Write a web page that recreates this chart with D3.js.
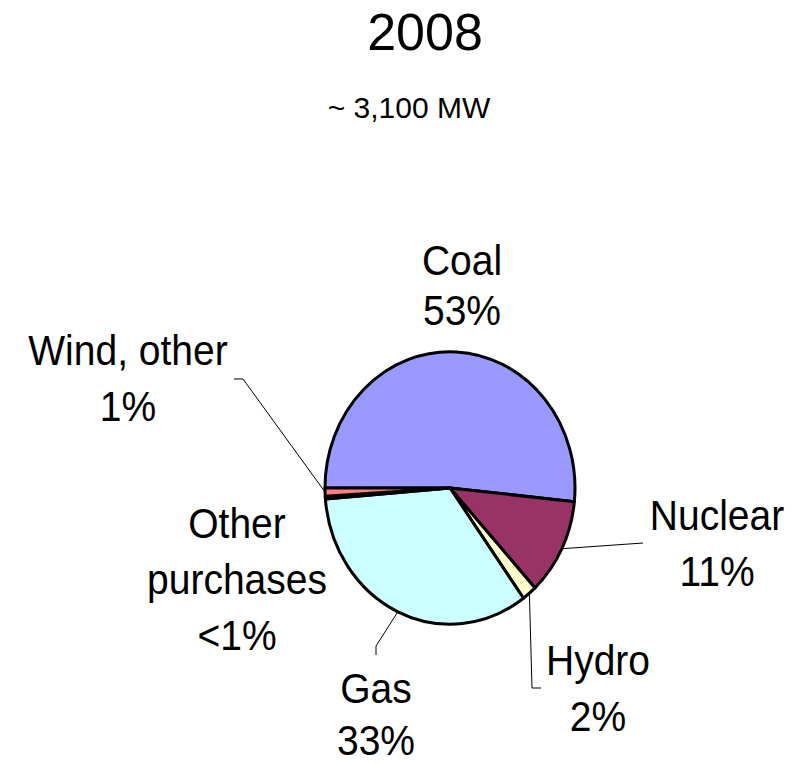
<!DOCTYPE html>
<html>
<head>
<meta charset="utf-8">
<script src="https://cdn.jsdelivr.net/npm/d3@7"></script>
<style>
  html, body { margin: 0; padding: 0; background: #fff; }
  svg text { font-family: "Liberation Sans", Arial, sans-serif; fill: #000; }
</style>
</head>
<body>
<svg id="chart"></svg>
<script>
// Data (shares of ~3,100 MW, 2008)
const sources = ['Coal', 'Nuclear', 'Hydro', 'Gas', 'Other purchases', 'Wind, other'];
const shares = [51.6, 11.5, 1.9, 33.7, 0.35, 0.95];
const pctLabels = ['53%', '11%', '2%', '33%', '<1%', '1%'];
const colors = ['#9999FF', '#993366', '#FFFFCC', '#CCFFFF', '#000000', '#FF8080'];

const title = '2008';
const subtitle = '~ 3,100 MW';

const width = 802, height = 764;
const cx = 450, cy = 488;   // pie centre
const radius = 125;
const squash = 1.09;        // the pie area is drawn a bit taller than wide

// label placement: anchor x, first baseline y, line gap, text lines
// leader = points relative to the anchor (line starts on the slice edge)
const labelLayout = [
  { x: 462, y: 275, gap: 50, lines: ['Coal'] },
  { x: 717, y: 530, gap: 56, lines: ['Nuclear'], leader: [[-74, 13]] },
  { x: 598, y: 675, gap: 56, lines: ['Hydro'], leader: [[-66, 13], [-57, 13]] },
  { x: 376, y: 703, gap: 52, lines: ['Gas'], leader: [[0, -57], [0, -48]] },
  { x: 237, y: 538, gap: 56, lines: ['Other', 'purchases'] },
  { x: 128, y: 365, gap: 56, lines: ['Wind, other'], leader: [[115, 14], [106, 14]] },
];

const svg = d3.select('#chart')
  .attr('width', width)
  .attr('height', height);

svg.append('text')
  .attr('x', 425)
  .attr('y', 50)
  .attr('text-anchor', 'middle')
  .style('font-size', '52px')
  .text(title);

svg.append('text')
  .attr('x', 409)
  .attr('y', 118)
  .attr('text-anchor', 'middle')
  .style('font-size', '30px')
  .text(subtitle);

const pie = d3.pie()
  .sort(null)
  .value(d => d)
  .startAngle(-Math.PI / 2)
  .endAngle(Math.PI * 1.5);

const arcs = pie(shares);
const arc = d3.arc().innerRadius(0).outerRadius(radius);

const pieG = svg.append('g')
  .attr('transform', `translate(${cx},${cy}) scale(1,${squash})`);

pieG.selectAll('path')
  .data(arcs)
  .enter()
  .append('path')
  .attr('d', arc)
  .style('fill', (d, i) => colors[i])
  .style('stroke', '#000')
  .style('stroke-width', 3)
  .style('stroke-linejoin', 'round')
  .attr('vector-effect', 'non-scaling-stroke');

// point on the pie edge at a slice's mid angle, in page coords
function edgePoint(d) {
  const a = (d.startAngle + d.endAngle) / 2;
  return [cx + radius * Math.sin(a), cy - radius * Math.cos(a) * squash];
}

const leaderLine = d3.line();

arcs.forEach((d, i) => {
  const lay = labelLayout[i];

  if (lay.leader) {
    const pts = [edgePoint(d)].concat(lay.leader.map(([dx, dy]) => [lay.x + dx, lay.y + dy]));
    svg.append('path')
      .attr('d', leaderLine(pts))
      .style('fill', 'none')
      .style('stroke', '#000')
      .style('stroke-width', 1);
  }

  // labels are stretched the same way as the pie
  const lines = lay.lines.concat([pctLabels[i]]);
  const t = svg.append('text')
    .attr('transform', `translate(${lay.x},${lay.y}) scale(1,${squash})`)
    .attr('text-anchor', 'middle')
    .style('font-size', '39px');
  lines.forEach((ln, j) => {
    t.append('tspan')
      .attr('x', 0)
      .attr('y', j * lay.gap / squash)
      .text(ln);
  });
});
</script>
</body>
</html>
